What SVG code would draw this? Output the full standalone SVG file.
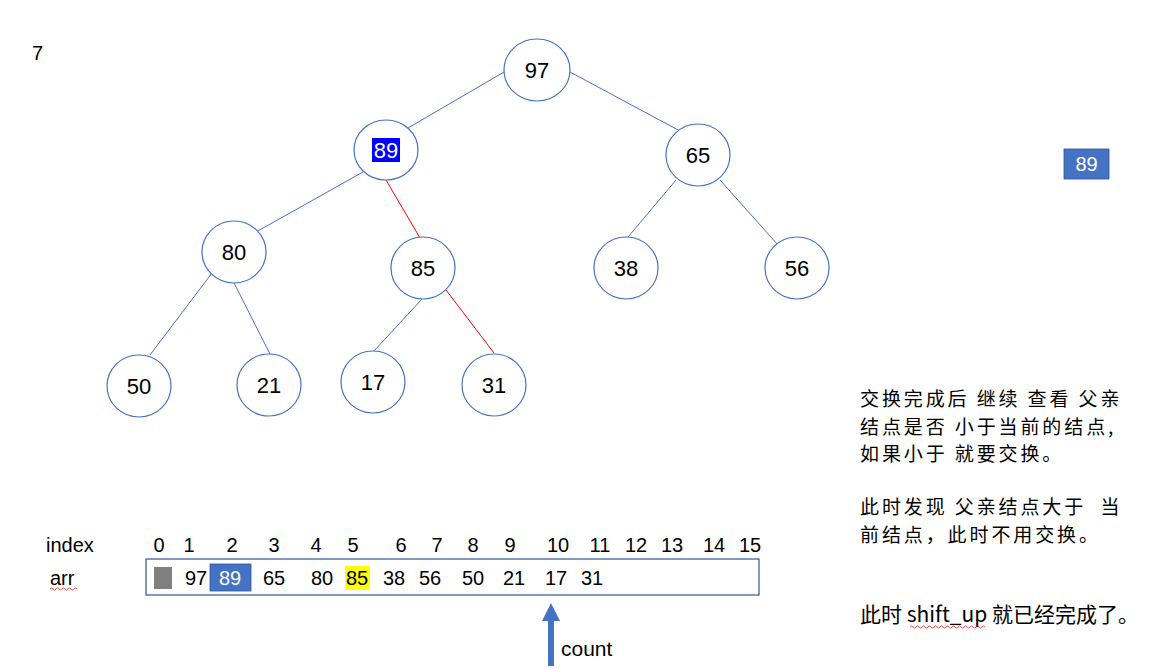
<svg xmlns="http://www.w3.org/2000/svg" width="1153" height="669" viewBox="0 0 1153 669">
<style>
text{font-family:"Liberation Sans","Noto Sans CJK SC",sans-serif;fill:#000}
.n ellipse{fill:#fff;stroke:#4472C4;stroke-width:1.2}
.n text{font-size:22px;text-anchor:middle}
.e{stroke:#4472C4;stroke-width:1;fill:none}
.r{stroke:#FF0000;stroke-width:1;fill:none}
.t{font-size:20px}
.c{font-size:20px;text-anchor:middle}
.zh{font-family:"Noto Sans CJK SC",sans-serif;font-size:19px;letter-spacing:2.9px;white-space:pre}
.zh1{font-family:"Noto Sans CJK SC",sans-serif;font-size:21px}
.wave{stroke:#E02020;stroke-width:0.8;fill:none}
</style>
<rect width="1153" height="669" fill="#fff"/>
<text x="32" y="60" class="t">7</text>
<g id="connectors">
<line class="e" x1="504" y1="72" x2="408" y2="128"/>
<line class="e" x1="570" y1="72" x2="680" y2="131"/>
<line class="e" x1="363" y1="172" x2="256" y2="232"/>
<line class="r" x1="386" y1="180" x2="420" y2="238"/>
<line class="e" x1="676" y1="180" x2="628" y2="237"/>
<line class="e" x1="720" y1="180" x2="778" y2="245"/>
<line class="e" x1="212" y1="273" x2="150" y2="355"/>
<line class="e" x1="234" y1="283" x2="270" y2="354"/>
<line class="e" x1="423" y1="298" x2="373" y2="352"/>
<line class="r" x1="446" y1="290" x2="494" y2="353"/>
</g>
<g id="n97" class="n"><ellipse cx="537" cy="70" rx="33" ry="31"/><text x="537" y="78">97</text></g>
<g id="n89" class="n"><ellipse cx="386" cy="150" rx="32" ry="30"/><rect x="372" y="138" width="28" height="24" fill="#0000FF"/><text x="386" y="158" style="fill:#fff">89</text></g>
<g id="n65" class="n"><ellipse cx="698" cy="155" rx="32" ry="31"/><text x="698" y="163">65</text></g>
<g id="n80" class="n"><ellipse cx="234" cy="252" rx="32" ry="31"/><text x="234" y="260">80</text></g>
<g id="n85" class="n"><ellipse cx="423" cy="268" rx="32" ry="31"/><text x="423" y="276">85</text></g>
<g id="n38" class="n"><ellipse cx="626" cy="268" rx="32" ry="31"/><text x="626" y="276">38</text></g>
<g id="n56" class="n"><ellipse cx="797" cy="268" rx="32" ry="31"/><text x="797" y="276">56</text></g>
<g id="n50" class="n"><ellipse cx="139" cy="386" rx="32" ry="31"/><text x="139" y="394">50</text></g>
<g id="n21" class="n"><ellipse cx="269" cy="385" rx="32" ry="31"/><text x="269" y="393">21</text></g>
<g id="n17" class="n"><ellipse cx="373" cy="382" rx="32" ry="31"/><text x="373" y="390">17</text></g>
<g id="n31" class="n"><ellipse cx="494" cy="385" rx="32" ry="31"/><text x="494" y="393">31</text></g>
<g id="tmp89"><rect x="1064" y="149" width="45" height="30" fill="#4472C4" stroke="#2F5597" stroke-width="0.8"/><text x="1086.5" y="171" class="c" style="fill:#fff">89</text></g>
<g id="array">
<text x="46" y="552" class="t">index</text>
<text x="159" y="552" class="c">0</text><text x="189" y="552" class="c">1</text><text x="232" y="552" class="c">2</text><text x="274" y="552" class="c">3</text><text x="316" y="552" class="c">4</text><text x="353" y="552" class="c">5</text><text x="401" y="552" class="c">6</text><text x="437" y="552" class="c">7</text><text x="473" y="552" class="c">8</text><text x="510" y="552" class="c">9</text><text x="558" y="552" class="c">10</text><text x="600" y="552" class="c">11</text><text x="636" y="552" class="c">12</text><text x="672" y="552" class="c">13</text><text x="714" y="552" class="c">14</text><text x="750" y="552" class="c">15</text>
<text x="50" y="585" class="t">arr</text>
<path class="wave" d="M50 589 q1.5 -2 3 0 t3 0 t3 0 t3 0 t3 0 t3 0 t3 0 t3 0 t3 0"/>
<rect x="146" y="559" width="613" height="36" fill="#fff" stroke="#2F5597" stroke-width="1.2"/>
<rect x="154" y="567" width="18" height="22" fill="#808080"/>
<rect x="210" y="564" width="41" height="27" fill="#4472C4" stroke="#2F5597" stroke-width="0.8"/>
<rect x="345" y="566" width="25" height="24" fill="#FFFF00"/>
<text x="196" y="585" class="c">97</text><text x="230" y="585" class="c" style="fill:#fff">89</text><text x="274" y="585" class="c">65</text><text x="322" y="585" class="c">80</text><text x="357" y="585" class="c">85</text><text x="394" y="585" class="c">38</text><text x="430" y="585" class="c">56</text><text x="473" y="585" class="c">50</text><text x="514" y="585" class="c">21</text><text x="556" y="585" class="c">17</text><text x="592" y="585" class="c">31</text>
</g>
<g id="count">
<rect x="548" y="620" width="6" height="46" fill="#4472C4"/>
<polygon points="551,603 542,621 560,621" fill="#4472C4"/>
<text x="561" y="656" style="font-size:21px">count</text>
</g>
<g id="notes">
<text class="zh"><tspan x="860" y="406">交换完成后 继续 查看 父亲</tspan><tspan x="860" y="433.5">结点是否 小于当前的结点,</tspan><tspan x="860" y="461">如果小于 就要交换。</tspan></text>
<text class="zh"><tspan x="860" y="514">此时发现 父亲结点大于  当</tspan><tspan x="860" y="541.5">前结点，此时不用交换。</tspan></text>
<text x="860" y="622" class="zh1">此时 shift_up 就已经完成了。</text>
<path class="wave" d="M910 627 q1.5 -2 3 0 t3 0 t3 0 t3 0 t3 0 t3 0 t3 0 t3 0 t3 0 t3 0 t3 0 t3 0 t3 0 t3 0 t3 0 t3 0 t3 0 t3 0 t3 0 t3 0 t3 0 t3 0 t3 0 t3 0 t3 0"/>
</g>
</svg>
